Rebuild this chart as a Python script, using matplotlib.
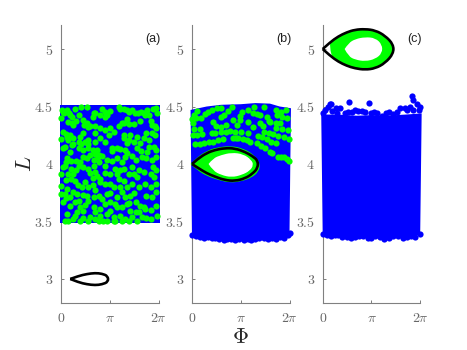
#!/usr/bin/env python3
import numpy as np
import matplotlib
matplotlib.use("Agg")
import matplotlib.pyplot as plt
from matplotlib.patches import PathPatch
from matplotlib.path import Path

plt.rcParams["font.family"] = ["Liberation Sans", "DejaVu Sans"]
plt.rcParams["mathtext.fontset"] = "cm"

BLUE = "#0000ff"
GREEN = "#00ff00"
GRAY = "#666666"

# all phi values below are in units of pi
X_TICKS = [0, 1, 2]
X_LABELS = ["$0$", r"$\pi$", r"$2\pi$"]
Y_TICKS = [3, 3.5, 4, 4.5, 5]
Y_LABELS = ["$3$", "$3.5$", "$4$", "$4.5$", "$5$"]
PANEL_NAMES = ["(a)", "(b)", "(c)"]

# panel (a)
A_EDGE_PHI = [-0.03, 2.03]
A_EDGE_TOP = [4.515, 4.515]
A_EDGE_BOT = [3.485, 3.485]
A_CURVE = [(0.19, 3.0), (0.36, 3.026), (0.53, 3.043), (0.70, 3.052), (0.84, 3.046),
           (0.96, 3.026), (0.97, 2.975), (0.84, 2.953), (0.70, 2.946),
           (0.53, 2.954), (0.36, 2.971), (0.19, 3.0)]
A_GREEN = [
    (0.03, 4.47), (0.12, 4.47), (0.07, 4.441), (0.19, 4.427), (0.22, 4.406), (0.01, 4.397),
    (0.29, 4.476), (0.41, 4.493), (0.54, 4.493), (0.37, 4.427), (0.30, 4.377), (0.15, 4.369),
    (0.46, 4.383), (0.53, 4.354), (0.56, 4.325), (0.69, 4.447), (0.65, 4.412), (0.84, 4.476),
    (0.80, 4.427), (0.91, 4.412), (1.01, 4.464), (1.18, 4.493), (1.29, 4.476), (1.40, 4.456),
    (1.51, 4.447), (1.65, 4.456), (1.77, 4.47), (1.94, 4.485), (1.97, 4.441), (1.72, 4.427),
    (1.84, 4.377), (1.94, 4.311), (1.35, 4.389), (1.29, 4.36), (1.18, 4.331), (1.49, 4.348),
    (1.63, 4.377), (0.70, 4.331), (0.80, 4.311), (0.91, 4.296), (1.01, 4.311), (1.08, 4.282),
    (0.98, 4.253), (0.69, 4.267), (0.05, 4.282), (0.12, 4.238), (0.01, 4.215), (0.19, 4.253),
    (0.25, 4.224), (0.46, 4.267), (0.39, 4.238), (0.36, 4.195), (0.50, 4.195), (0.56, 4.209),
    (0.70, 4.195), (0.91, 4.195), (0.80, 4.224), (0.22, 4.166), (0.08, 4.151), (0.36, 4.137),
    (0.05, 4.137), (0.19, 4.108), (0.46, 4.122), (0.56, 4.137), (0.60, 4.079), (0.74, 4.122),
    (0.77, 4.079), (1.04, 4.137), (1.15, 4.137), (1.35, 4.18), (1.29, 4.224), (1.42, 4.253),
    (1.56, 4.238), (1.35, 4.093), (1.32, 4.122), (1.70, 4.224), (1.80, 4.209), (1.92, 4.253),
    (1.87, 4.267), (1.63, 4.18), (1.56, 4.137), (1.77, 4.108), (1.94, 4.122), (1.66, 4.064),
    (1.53, 4.035), (1.87, 4.035), (0.10, 4.021), (0.12, 4.05), (0.53, 4.05), (0.67, 4.035),
    (0.77, 4.021), (0.94, 4.035), (1.15, 4.05), (1.32, 4.064), (0.39, 4.021),
    (0.08, 3.986), (0.36, 3.986), (0.56, 3.957), (0.67, 3.986), (0.91, 3.986), (0.74, 3.899),
    (0.80, 3.87), (0.80, 3.841), (1.01, 3.913), (1.15, 3.913), (1.18, 3.87), (1.01, 3.826),
    (1.22, 3.797), (1.35, 3.797), (1.46, 3.971), (1.56, 3.884), (1.49, 3.913), (1.84, 3.913),
    (1.90, 3.884), (1.73, 3.826), (1.94, 3.826), (0.01, 3.812), (0.01, 3.739), (0.08, 3.739),
    (0.19, 3.71), (0.32, 3.739), (0.25, 3.913), (0.15, 3.913), (0.01, 3.913), (0.29, 3.855),
    (0.43, 3.797), (0.56, 3.797), (0.53, 3.725), (0.67, 3.71), (0.56, 3.681), (0.77, 3.725),
    (0.94, 3.739), (0.84, 3.696), (0.05, 3.667), (0.19, 3.638), (0.36, 3.681), (0.39, 3.623),
    (0.32, 3.58), (0.12, 3.565), (0.29, 3.551), (0.46, 3.594), (0.67, 3.623), (0.80, 3.609),
    (0.91, 3.652), (1.01, 3.667), (1.01, 3.594), (0.94, 3.565), (0.80, 3.551), (0.87, 3.507),
    (0.70, 3.522), (0.60, 3.536), (1.08, 3.536), (1.15, 3.71), (1.32, 3.71), (1.42, 3.725),
    (1.15, 3.623), (1.25, 3.623), (1.35, 3.652), (1.53, 3.667), (1.63, 3.638), (1.42, 3.594),
    (1.53, 3.58), (1.46, 3.536), (1.32, 3.522), (1.56, 3.507), (1.66, 3.536), (1.73, 3.609),
    (1.87, 3.71), (1.94, 3.638), (1.97, 3.551), (0.15, 3.501), (0.08, 3.501), (0.39, 3.501),
    (0.56, 3.501), (1.11, 3.501), (1.08, 3.501), (0.77, 3.501),
    (0.05, 4.45), (0.16, 4.44), (0.22, 4.36), (0.25, 4.34), (0.47, 4.34), (0.60, 4.33), (0.67, 4.44),
    (0.90, 4.45), (0.95, 4.43), (1.22, 4.48), (1.35, 4.47), (1.45, 4.47), (1.58, 4.44), (1.70, 4.44),
    (1.80, 4.43), (1.88, 4.48), (1.25, 4.36), (1.40, 4.35), (1.87, 4.34), (1.92, 4.33), (0.10, 4.26),
    (0.15, 4.21), (0.25, 4.17), (0.40, 4.17), (0.55, 4.17), (0.65, 4.12), (0.70, 4.09), (0.75, 4.06),
    (1.05, 4.11), (1.20, 4.13), (1.30, 4.25), (1.40, 4.21), (1.50, 4.19), (1.75, 4.27), (1.80, 4.15),
    (1.90, 4.15), (1.65, 4.11), (1.45, 4.07), (1.75, 4.05), (1.95, 4.06), (0.20, 4.03), (0.30, 4.03),
    (0.45, 4.06), (0.85, 4.07), (1.05, 4.03), (1.25, 4.02), (0.05, 3.97), (0.20, 3.96), (0.30, 3.95),
    (0.45, 3.97), (0.60, 3.92), (0.70, 3.93), (0.65, 3.88), (0.90, 3.92), (1.10, 3.96), (1.20, 3.95),
    (1.30, 3.96), (1.40, 3.91), (1.60, 3.95), (1.70, 3.93), (1.95, 3.95), (1.88, 3.97), (0.10, 3.86),
    (0.20, 3.87), (0.35, 3.82), (0.50, 3.84), (0.65, 3.82), (0.90, 3.83), (1.08, 3.80), (1.30, 3.85),
    (1.45, 3.83), (1.60, 3.80), (1.85, 3.80), (0.12, 3.78), (0.25, 3.76), (0.45, 3.73), (0.70, 3.77),
    (1.00, 3.75), (1.25, 3.76), (1.50, 3.75), (1.75, 3.72), (1.95, 3.76), (0.10, 3.70), (0.28, 3.67),
    (0.50, 3.64), (0.70, 3.58), (1.10, 3.65), (1.20, 3.55), (1.40, 3.66), (1.60, 3.58), (1.75, 3.53),
    (1.85, 3.60), (1.85, 3.52), (0.25, 3.52), (0.45, 3.53), (0.95, 3.50), (1.25, 3.50), (1.40, 3.50),
    (1.70, 3.63),
]

# panel (b)
B_TOP_PHI = [-0.03, 0.3, 0.6, 1.0, 1.3, 1.6, 1.8, 2.03]
B_TOP_L = [4.47, 4.50, 4.515, 4.52, 4.53, 4.525, 4.50, 4.485]
B_BOT_PHI = [-0.0, 0.08, 0.16, 0.24, 0.32, 0.40, 0.48, 0.56, 0.65, 0.72, 0.80, 0.88, 0.96,
             1.06, 1.14, 1.22, 1.30, 1.38, 1.47, 1.56, 1.64, 1.72, 1.80, 1.88, 1.96, 2.0]
B_BOT_L = [3.385, 3.372, 3.365, 3.36, 3.365, 3.355, 3.36, 3.345, 3.335, 3.35, 3.345, 3.335, 3.35,
           3.335, 3.345, 3.335, 3.345, 3.355, 3.36, 3.35, 3.36, 3.35, 3.365, 3.36, 3.38, 3.40]
B_CURVE = [(0, 4.0), (0.12, 4.045), (0.30, 4.095), (0.47, 4.122), (0.67, 4.138), (0.88, 4.136),
           (1.09, 4.105), (1.24, 4.068), (1.35, 4.03), (1.35, 3.965), (1.24, 3.915),
           (1.09, 3.875), (0.88, 3.852), (0.67, 3.86), (0.47, 3.89), (0.30, 3.92), (0.12, 3.967),
           (0, 4.0)]
B_ISLAND = [(-0.03, 4.0), (0.12, 4.064), (0.30, 4.113), (0.50, 4.145), (0.81, 4.158), (1.05, 4.135),
            (1.26, 4.085), (1.40, 4.006), (1.37, 3.933), (1.22, 3.880), (1.02, 3.85), (0.78, 3.836),
            (0.54, 3.861), (0.30, 3.896), (0.12, 3.942), (-0.03, 4.0)]
B_HOLE = [(0.34, 4.0), (0.43, 4.049), (0.60, 4.078), (0.81, 4.099), (1.05, 4.087), (1.22, 4.035),
          (1.26, 3.991), (1.19, 3.942), (1.02, 3.904), (0.81, 3.884), (0.60, 3.904), (0.43, 3.942),
          (0.34, 4.0)]
B_GREEN = [
    (0.11, 4.464), (0.05, 4.427), (0.0, 4.389), (0.09, 4.397), (0.18, 4.397), (0.02, 4.354),
    (0.33, 4.456), (0.40, 4.47), (0.27, 4.435), (0.52, 4.485), (0.60, 4.485), (0.73, 4.464),
    (0.82, 4.493), (0.66, 4.427), (0.59, 4.412), (0.43, 4.369), (0.50, 4.331), (0.60, 4.325),
    (0.69, 4.34), (0.85, 4.383), (0.98, 4.383), (0.93, 4.34), (1.02, 4.456), (1.14, 4.47),
    (0.98, 4.418), (1.28, 4.499), (1.26, 4.447), (1.33, 4.435), (1.48, 4.493), (1.40, 4.427),
    (1.53, 4.412), (1.58, 4.377), (1.72, 4.47), (1.83, 4.456), (1.92, 4.47), (1.74, 4.427),
    (1.84, 4.412), (1.95, 4.397), (1.72, 4.36), (1.81, 4.354), (1.60, 4.369), (1.40, 4.354),
    (1.46, 4.331), (1.15, 4.369), (1.26, 4.325), (1.72, 4.311), (1.84, 4.302), (1.97, 4.296),
    (0.05, 4.302), (0.16, 4.302), (0.02, 4.253), (0.11, 4.253), (0.21, 4.261), (0.40, 4.267),
    (0.47, 4.267), (0.59, 4.282), (0.69, 4.282), (0.78, 4.29), (0.89, 4.282), (1.00, 4.276),
    (1.14, 4.267), (1.48, 4.282), (1.57, 4.273), (1.67, 4.258), (1.77, 4.244), (1.88, 4.232),
    (1.98, 4.215), (0.07, 4.171), (0.16, 4.174), (0.25, 4.18), (0.34, 4.189), (0.43, 4.195),
    (0.54, 4.209), (0.64, 4.215), (0.85, 4.229), (0.95, 4.224), (1.05, 4.215), (1.19, 4.195),
    (1.36, 4.247), (1.44, 4.238), (1.53, 4.215), (1.62, 4.195), (1.72, 4.18), (1.33, 4.18),
    (1.42, 4.157), (1.50, 4.137), (1.59, 4.108), (1.65, 4.093), (1.77, 4.064), (1.88, 4.058),
    (1.82, 4.062), (1.94, 4.04), (1.99, 4.03), (1.12, 4.21), (0.90, 4.228),
]

# panel (c)
C_TOP_PHI = [-0.03, 0.3, 0.7, 1.0, 1.3, 1.7, 2.03]
C_TOP_L = [4.43, 4.43, 4.42, 4.425, 4.42, 4.43, 4.44]
C_BOT_PHI = [0.0, 0.08, 0.18, 0.26, 0.32, 0.40, 0.49, 0.58, 0.66, 0.75, 0.83, 0.92, 1.0,
             1.08, 1.18, 1.26, 1.35, 1.45, 1.55, 1.64, 1.73, 1.82, 1.90, 2.0]
C_BOT_L = [3.395, 3.38, 3.374, 3.385, 3.380, 3.365, 3.369, 3.36, 3.363, 3.375, 3.374, 3.36, 3.357,
           3.37, 3.363, 3.35, 3.357, 3.37, 3.374, 3.36, 3.363, 3.375, 3.369, 3.395]
C_TOP_DOTS = [
    (0.14, 4.521), (0.18, 4.521), (0.10, 4.498), (0.05, 4.469), (0.01, 4.440), (0.28, 4.484),
    (0.35, 4.484), (0.54, 4.542), (0.51, 4.455), (0.45, 4.440), (0.66, 4.469), (0.73, 4.463),
    (0.80, 4.463), (0.87, 4.455), (0.95, 4.533), (0.99, 4.440), (1.11, 4.446), (1.21, 4.417),
    (1.35, 4.455), (1.45, 4.434), (1.59, 4.484), (1.68, 4.484), (1.73, 4.469), (1.83, 4.594),
    (1.86, 4.556), (1.93, 4.521), (2.0, 4.498), (1.79, 4.498), (1.98, 4.469),
    (0.20, 4.46), (0.30, 4.445), (0.60, 4.45), (1.05, 4.45), (1.30, 4.44), (1.52, 4.45), (1.85, 4.47),
]
C_CURVE = [(0, 5.0), (0.15, 5.058), (0.32, 5.110), (0.49, 5.145), (0.66, 5.168), (0.87, 5.174),
           (1.08, 5.162), (1.28, 5.116), (1.45, 5.04), (1.45, 4.96), (1.28, 4.878),
           (1.08, 4.832), (0.87, 4.820), (0.66, 4.832), (0.49, 4.855), (0.32, 4.890), (0.15, 4.942),
           (0, 5.0)]
C_HOLE = [(0.45, 5.0), (0.53, 5.052), (0.67, 5.087), (0.87, 5.104), (1.08, 5.096), (1.22, 5.038),
          (1.22, 4.965), (1.08, 4.913), (0.87, 4.893), (0.67, 4.907), (0.53, 4.936), (0.45, 5.0)]

DOT = 20


def xy(points):
    arr = np.array(points)
    return arr[:, 0] * np.pi, arr[:, 1]


def smooth_path(points):
    # quadratic bezier pieces, the read points act as control points
    phi, values = xy(points)
    pts = np.column_stack([phi, values])
    verts = [pts[0]]
    codes = [Path.MOVETO]
    for i in range(1, len(pts) - 1):
        end = pts[i + 1] if i == len(pts) - 2 else (pts[i] + pts[i + 1]) / 2
        verts += [pts[i], end]
        codes += [Path.CURVE3, Path.CURVE3]
    return Path(verts, codes)


def add_shape(ax, points, z, face="none", edge="none", lw=0):
    ax.add_patch(PathPatch(smooth_path(points), facecolor=face, edgecolor=edge, lw=lw,
                           clip_on=False, zorder=z, joinstyle="round"))


def fill_block(ax, phi, top, phi_bot, bot):
    ax.fill(
        np.r_[np.array(phi), np.array(phi_bot)[::-1]] * np.pi,
        np.r_[top, bot[::-1]],
        color=BLUE,
        lw=0,
        clip_on=False,
        zorder=2.7,
    )


def dots(ax, phi, values, color, z=3):
    ax.scatter(phi, values, s=DOT, color=color, lw=0, clip_on=False, zorder=z)


def style_axes(ax, name):
    ax.set_xlim(0, 2 * np.pi)
    ax.set_ylim(2.791, 5.209)
    ax.set_xticks(np.array(X_TICKS) * np.pi)
    ax.set_xticklabels(X_LABELS)
    ax.set_yticks(Y_TICKS)
    ax.set_yticklabels(Y_LABELS)
    ax.tick_params(direction="in", length=2.2, width=0.6, color=GRAY, labelcolor=GRAY,
                   labelsize=10, pad=5.5)
    ax.spines["top"].set_visible(False)
    ax.spines["right"].set_visible(False)
    ax.spines["left"].set_color("#808080")
    ax.spines["bottom"].set_color("#808080")
    ax.spines["left"].set_linewidth(0.8)
    ax.spines["bottom"].set_linewidth(0.8)
    ax.patch.set_alpha(0)
    ax.text(0.94, 0.948, name, transform=ax.transAxes, ha="center", va="center",
            fontsize=9, color="#222222")


def main():
    fig = plt.figure(figsize=(4.67, 3.5), dpi=100)
    lefts = [61, 192, 322.7]
    axes = [fig.add_axes([l / 467, 47 / 350, 97.5 / 467, 278 / 350]) for l in lefts]
    ax_a, ax_b, ax_c = axes

    fill_block(ax_a, A_EDGE_PHI, A_EDGE_TOP, A_EDGE_PHI, A_EDGE_BOT)
    phi, values = xy(A_GREEN)
    dots(ax_a, phi, values, GREEN)
    add_shape(ax_a, A_CURVE, 6, edge="black", lw=1.9)

    fill_block(ax_b, B_TOP_PHI, B_TOP_L, B_BOT_PHI, B_BOT_L)
    dots(ax_b, np.array(B_BOT_PHI) * np.pi, B_BOT_L, BLUE, z=2.8)
    phi, values = xy(B_GREEN)
    dots(ax_b, phi, values, GREEN)
    add_shape(ax_b, B_ISLAND, 4, face=GREEN)
    add_shape(ax_b, B_HOLE, 5, face="white")
    add_shape(ax_b, B_CURVE, 6, edge="black", lw=1.9)

    fill_block(ax_c, C_TOP_PHI, C_TOP_L, C_BOT_PHI, C_BOT_L)
    dots(ax_c, np.array(C_BOT_PHI) * np.pi, C_BOT_L, BLUE, z=2.8)
    phi, values = xy(C_TOP_DOTS)
    dots(ax_c, phi, values, BLUE)
    add_shape(ax_c, C_CURVE[1:-1] + [C_CURVE[1]], 4, face=GREEN)
    add_shape(ax_c, C_HOLE, 5, face="white")
    add_shape(ax_c, C_CURVE, 6, edge="black", lw=1.9)

    for ax, name in zip(axes, PANEL_NAMES):
        style_axes(ax, name)

    ax_a.set_ylabel("$L$", fontsize=16, color="#262626", labelpad=-1)
    ax_b.set_xlabel(r"$\Phi$", fontsize=16, color="#262626", labelpad=2)

    fig.savefig("out.png", dpi=100)


if __name__ == "__main__":
    main()
